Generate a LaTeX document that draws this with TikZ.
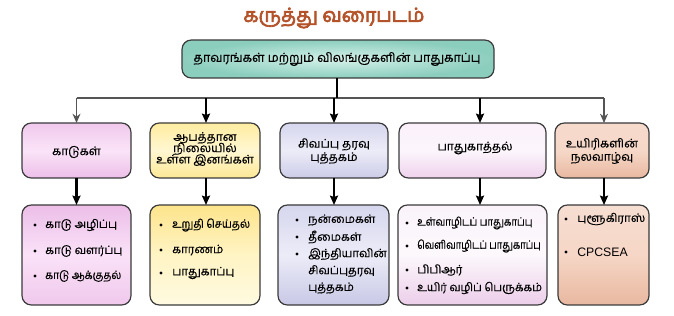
\documentclass[tikz,border=0pt]{standalone}
\usepackage{fontspec}
\setmainfont[Script=Tamil, FakeBold=0.35]{Hind Madurai}
\newfontfamily\titlefont[Script=Tamil, FakeBold=3.5]{Hind Madurai}
\usetikzlibrary{arrows.meta,shadings}
\definecolor{titlecol}{HTML}{B4532A}
\definecolor{edge}{HTML}{3A3A3A}
\definecolor{conn}{HTML}{555555}
\tikzset{
  box/.style={draw=edge, line width=0.9pt, rounded corners=7pt, inner sep=0pt},
  lbl/.style={font=\fontsize{8.9}{10}\selectfont, align=center, inner sep=0pt},
  itm/.style={font=\fontsize{8.6}{10}\selectfont, anchor=west, inner sep=0pt},
  blt/.style={circle, fill=black, inner sep=0pt, minimum size=2.4pt},
  feed/.style={draw=conn, line width=0.8pt},
  thinarr/.style={draw=conn, line width=0.8pt, -{Stealth[length=7pt,width=6pt]}},
  boldarr/.style={draw=black, line width=1.6pt, -{Stealth[length=7pt,width=6pt,inset=1pt]}},
}
\newcommand{\cond}[2][0.83]{\scalebox{#1}[1]{#2}}
\begin{document}
\begin{tikzpicture}[x=0.75pt,y=-0.75pt]
\useasboundingbox (0,0) rectangle (674,316);
% title
\node[font=\titlefont\fontsize{14.6}{16}\selectfont, text=titlecol] (title) at (334,18) {கருத்து வரைபடம்};
% top box
\path[box, inner color={rgb,255:red,214;green,242;blue,234}, outer color={rgb,255:red,140;green,206;blue,190}] (182,40) rectangle (494,78);
\node[lbl, font=\fontsize{9.3}{10}\selectfont] (toptxt) at (337,59) {தாவரங்கள் மற்றும் விலங்குகளின் பாதுகாப்பு};
% row 1 boxes
\path[box, top color={rgb,255:red,240;green,200;blue,236}, bottom color={rgb,255:red,236;green,190;blue,232}, middle color={rgb,255:red,250;green,228;blue,248}] (22,123) rectangle (131,178);
\path[box, top color={rgb,255:red,255;green,236;blue,160}, bottom color={rgb,255:red,253;green,232;blue,150}, middle color={rgb,255:red,255;green,247;blue,210}] (150,123) rectangle (260,178);
\path[box, top color={rgb,255:red,214;green,214;blue,238}, bottom color={rgb,255:red,204;green,204;blue,232}, middle color={rgb,255:red,236;green,236;blue,248}] (280,123) rectangle (388,178);
\path[box, top color={rgb,255:red,250;green,240;blue,250}, bottom color={rgb,255:red,238;green,210;blue,236}, middle color={rgb,255:red,252;green,246;blue,252}] (399,123) rectangle (546,178);
\path[box, top color={rgb,255:red,246;green,218;blue,204}, bottom color={rgb,255:red,232;green,184;blue,160}, middle color={rgb,255:red,246;green,216;blue,200}] (555,123) rectangle (649,178);
\coordinate (a1) at (76.5,123); \coordinate (a2) at (206,123); \coordinate (a3) at (334,123); \coordinate (a4) at (480,123); \coordinate (a5) at (604,123);
\node[lbl] (k1) at (76.5,152) {காடுகள்};
\node[lbl] (k2) at (205,149) {ஆபத்தான\\[-1.5pt]நிலையில்\\[-1.5pt]உள்ள இனங்கள்};
\node[lbl] (k3) at (334,151) {சிவப்பு தரவு\\[0pt]புத்தகம்};
\node[lbl] (k4) at (475,148) {பாதுகாத்தல்};
\node[lbl] (k5) at (602,151) {உயிரிகளின்\\[0pt]நலவாழ்வு};
% row 2 boxes
\path[box, top color={rgb,255:red,236;green,190;blue,232}, bottom color={rgb,255:red,240;green,200;blue,236}, middle color={rgb,255:red,250;green,226;blue,248}] (22,205) rectangle (131,305);
\path[box, top color={rgb,255:red,253;green,228;blue,140}, bottom color={rgb,255:red,255;green,250;blue,225}, middle color={rgb,255:red,255;green,244;blue,196}] (150,205) rectangle (260,305);
\path[box, top color={rgb,255:red,214;green,214;blue,238}, bottom color={rgb,255:red,200;green,200;blue,230}, middle color={rgb,255:red,236;green,236;blue,248}] (278,205) rectangle (389,305);
\path[box, top color={rgb,255:red,250;green,244;blue,250}, bottom color={rgb,255:red,236;green,206;blue,234}, middle color={rgb,255:red,252;green,248;blue,252}] (398,205) rectangle (547,305);
\path[box, top color={rgb,255:red,246;green,222;blue,210}, bottom color={rgb,255:red,232;green,184;blue,160}, middle color={rgb,255:red,246;green,214;blue,198}] (558,205) rectangle (649,305);
\coordinate (b1) at (76.5,205); \coordinate (b2) at (206,205); \coordinate (b3) at (334,205); \coordinate (b4) at (480,205); \coordinate (b5) at (604,205);
\coordinate (c1) at (76.5,178); \coordinate (c2) at (206,178); \coordinate (c3) at (334,178); \coordinate (c4) at (480,178); \coordinate (c5) at (604,178);
% items box 1
\node[blt] (p11) at (35,225) {}; \node[itm] (t11) at (45,225) {காடு அழிப்பு};
\node[blt] (p12) at (35,251) {}; \node[itm] (t12) at (45,251) {காடு வளர்ப்பு};
\node[blt] (p13) at (35,276) {}; \node[itm] (t13) at (45,276) {\cond[0.9]{காடு ஆக்குதல்}};
% items box 2
\node[blt] (p21) at (161,225) {}; \node[itm] (t21) at (172,225) {\cond[0.92]{உறுதி செய்தல்}};
\node[blt] (p22) at (161,250) {}; \node[itm] (t22) at (172,250) {காரணம்};
\node[blt] (p23) at (161,273) {}; \node[itm] (t23) at (172,273) {பாதுகாப்பு};
% items box 3
\node[blt] (p31) at (297,220) {}; \node[itm] (t31) at (308,220) {நன்மைகள்};
\node[blt] (p32) at (297,237) {}; \node[itm] (t32) at (308,237) {தீமைகள்};
\node[blt] (p33) at (297,254) {}; \node[itm] (t33) at (308,254) {இந்தியாவின்};
\node[itm] (t34) at (308,271) {சிவப்புதரவு};
\node[itm] (t35) at (308,288) {புத்தகம்};
% items box 4
\node[blt] (p41) at (407,223) {}; \node[itm] (t41) at (417,223) {\cond[0.85]{உள்வாழிடப் பாதுகாப்பு}};
\node[blt] (p42) at (407,246) {}; \node[itm] (t42) at (417,246) {\cond[0.83]{வெளிவாழிடப் பாதுகாப்பு}};
\node[blt] (p43) at (407,270) {}; \node[itm] (t43) at (417,270) {பிபிஆர்};
\node[blt] (p44) at (407,288) {}; \node[itm] (t44) at (417,288) {\cond[0.97]{உயிர் வழிப் பெருக்கம்}};
% items box 5
\node[blt] (p51) at (566,219) {}; \node[itm] (t51) at (577,219) {புளூகிராஸ்};
\node[blt] (p52) at (566,252) {}; \node[itm, font=\fontspec{Liberation Sans}\fontsize{9.2}{10}\selectfont] (t52) at (577,252) {CPCSEA};
% connectors
\coordinate (tb) at (337,78);
\coordinate (hj) at (337,98);
\coordinate (hl) at (76.5,98);
\coordinate (hr) at (604,98);
\draw[feed] (hl) -- (hr);
\draw[draw=black, line width=1.4pt] (tb) -- (hj);
\draw[thinarr] (hl) -- (a1);
\draw[boldarr] (206,98) -- (a2);
\draw[boldarr] (334,98) -- (a3);
\draw[boldarr] (480,98) -- (a4);
\draw[thinarr] (hr) -- (a5);
\draw[boldarr] (c1) -- (b1);
\draw[boldarr] (c2) -- (b2);
\draw[boldarr] (c3) -- (b3);
\draw[boldarr] (c4) -- (b4);
\draw[boldarr] (c5) -- (b5);
\end{tikzpicture}
\end{document}
